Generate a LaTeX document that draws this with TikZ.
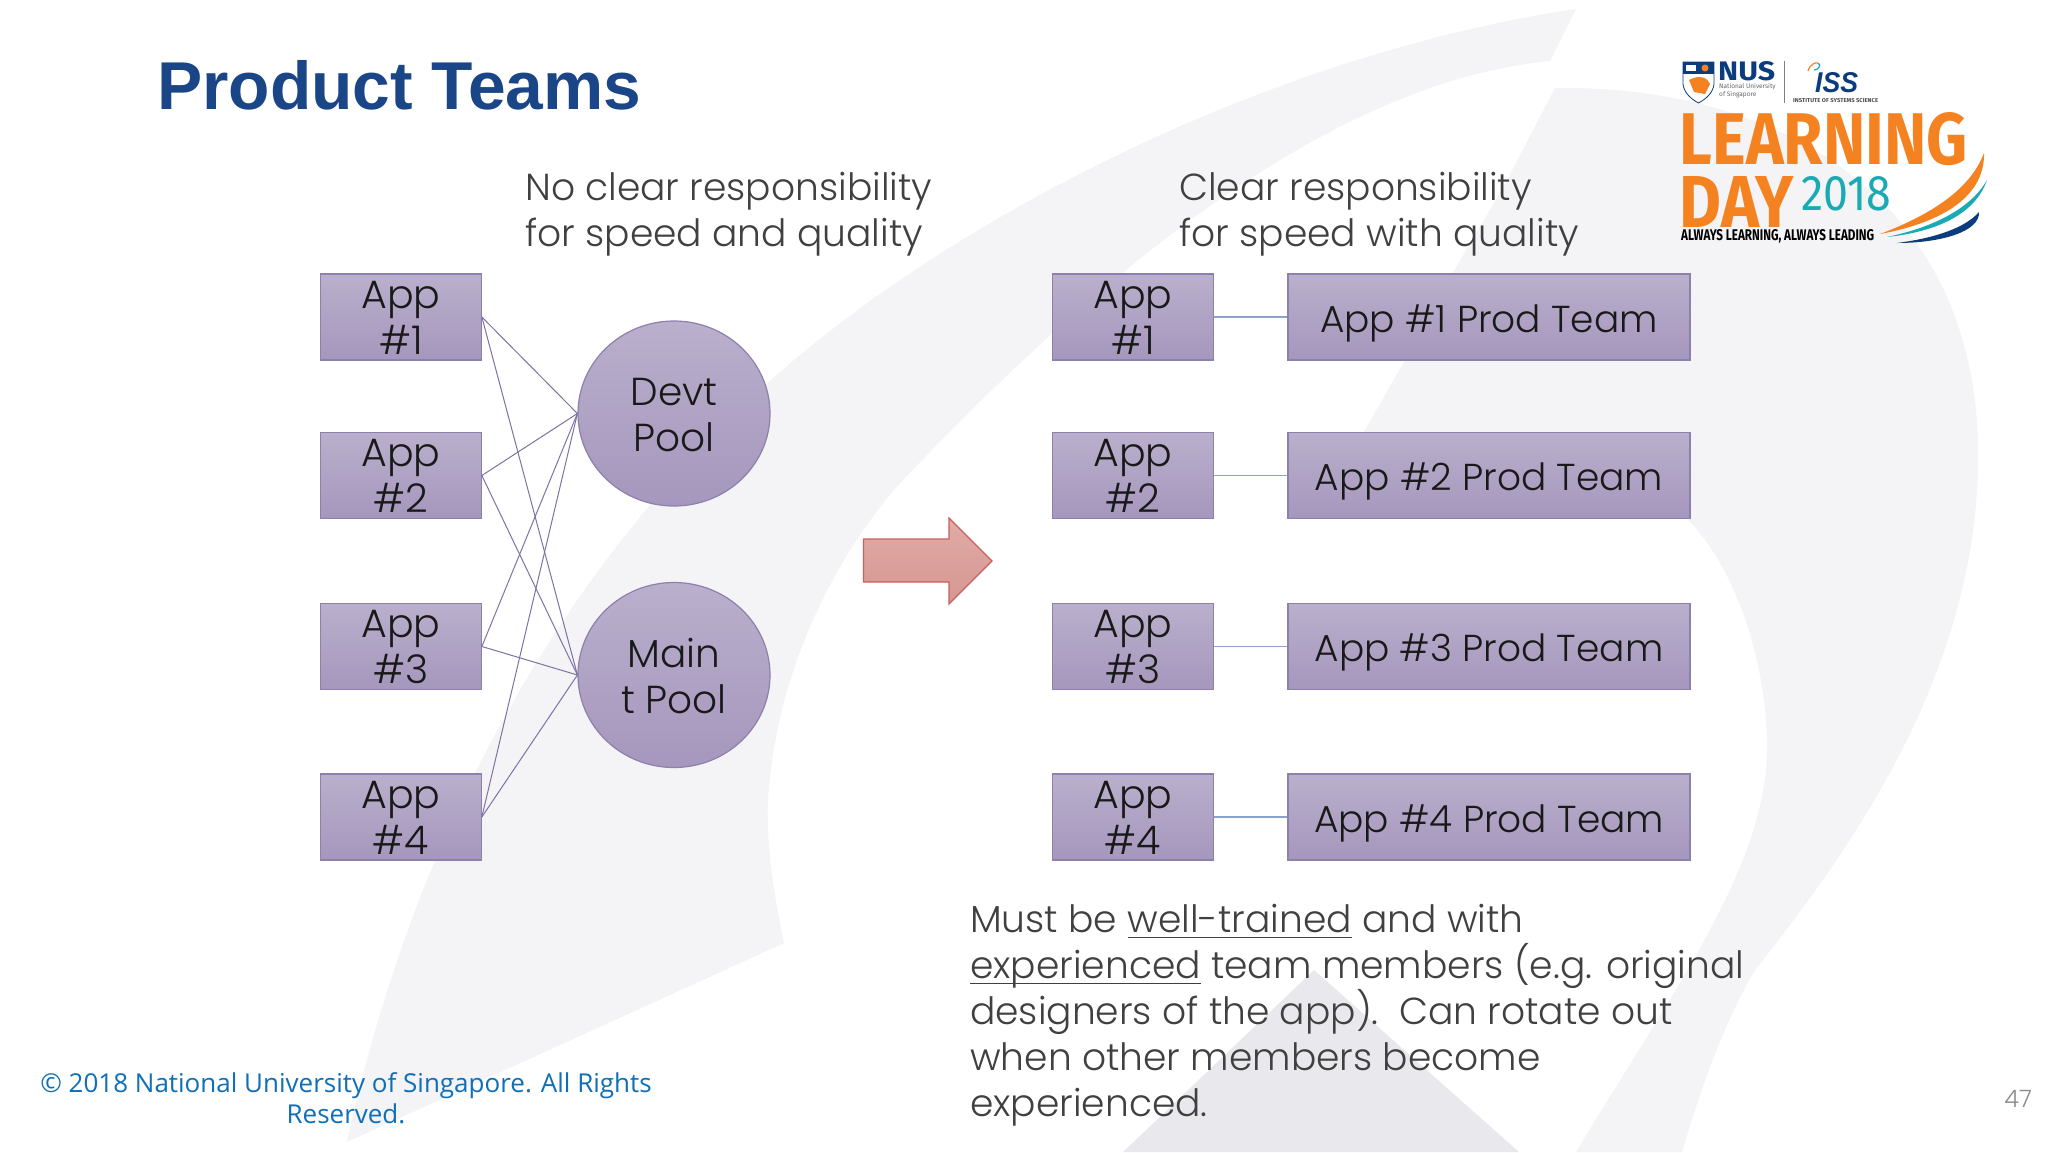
\documentclass[tikz,border=0pt]{standalone}
\usepackage{fontspec}
\usepackage{graphicx}
\usetikzlibrary{shapes.geometric}
\newfontfamily\gothic{Poppins Light}
\newfontfamily\headf{Liberation Sans}[BoldFont=Liberation Sans Bold]
\newfontfamily\condf{Fira Sans}
\newfontfamily\footf{Open Sans}
\definecolor{wm}{HTML}{F4F3F6}
\definecolor{wmd}{HTML}{E9E8EC}
\definecolor{titleblue}{HTML}{1A4587}
\definecolor{bodytxt}{HTML}{404040}
\definecolor{boxline}{HTML}{8E80AC}
\definecolor{boxtop}{HTML}{BAAFCC}
\definecolor{boxbot}{HTML}{A597BD}
\definecolor{linkp}{HTML}{7F72A3}
\definecolor{linkb}{HTML}{8AA2CC}
\definecolor{lorange}{HTML}{F58220}
\definecolor{lteal}{HTML}{1AAAB4}
\definecolor{lnavy}{HTML}{0B3C7D}
\definecolor{footblue}{HTML}{0F6FB7}
\definecolor{arrtop}{HTML}{E0ACA6}
\definecolor{arrbot}{HTML}{D69691}
\definecolor{arrline}{HTML}{C8605E}
\newcommand\fitbox[3]{\resizebox{#1pt}{#2pt}{#3}}
\newcommand\ulx[1]{\setbox0\hbox{#1}\rlap{\rule[-6pt]{\wd0}{1.6pt}}\box0{}}
\tikzset{
 bodyfont/.style={font=\gothic\fontsize{37.6}{46}\selectfont},
 appbox/.style={draw=boxline,line width=1.2pt,top color=boxtop,bottom color=boxbot,minimum width=160.5pt,minimum height=86pt,inner sep=0pt,align=center,font=\gothic\fontsize{39.5}{46}\selectfont,text=black!90},
 teambox/.style={draw=boxline,line width=1.2pt,top color=boxtop,bottom color=boxbot,minimum width=402pt,minimum height=86pt,inner sep=0pt,text height=36pt,text depth=6pt,font=\gothic\fontsize{37.5}{46}\selectfont,text=black!90},
 poolnode/.style={ellipse,draw=boxline,line width=1.2pt,top color=boxtop,bottom color=boxbot,minimum width=192pt,minimum height=185pt,inner sep=0pt,align=center,font=\gothic\fontsize{39}{46}\selectfont,text=black!90},
 teamlink/.style={draw=linkb,line width=1.2pt},
 poollink/.style={draw=linkp,line width=1pt},
 caption/.style={anchor=north west,inner sep=0pt,align=left,bodyfont,text=bodytxt},
 logotxt/.style={anchor=south west,inner sep=0pt},
}
\newcommand\appl[1]{\rule{0pt}{34pt}App\\#1\rule[-6pt]{0pt}{6pt}}
\newcommand\pool[2]{\rule{0pt}{36pt}#1\\#2\rule[-6pt]{0pt}{6pt}}
\begin{document}
\begin{tikzpicture}[x=1pt,y=-1pt]
\useasboundingbox (0,0) rectangle (2048,1152);
\fill[white] (0,0) rectangle (2048,1152);
% watermark
\fill[wm] (1576,9) .. controls (1300,50) and (1000,190) .. (800,355)
 .. controls (620,505) and (430,760) .. (347,1142)
 -- (784,943)
 .. controls (775,900) and (766,850) .. (768,800)
 .. controls (775,680) and (830,560) .. (903,480)
 .. controls (1130,240) and (1350,80) .. (1550,61) -- cycle;
\fill[wm] (1555,88) .. controls (1780,85) and (1985,200) .. (1978,470)
 .. controls (1972,680) and (1850,850) .. (1755,970)
 .. controls (1725,1020) and (1700,1090) .. (1682,1152)
 -- (1576,1152)
 .. controls (1680,980) and (1770,860) .. (1767,741)
 .. controls (1765,650) and (1730,560) .. (1686,518)
 -- (1364,432) -- (1404,362) -- (1454,271) -- (1504,186) -- cycle;
\fill[wmd] (1314,970) -- (1519,1152) -- (1123,1152) -- cycle;
% title and captions
\node[anchor=base west,inner sep=0pt,font=\headf\bfseries\fontsize{67.7}{70}\selectfont,text=titleblue] (title) at (157,109) {Product Teams};
\node[caption] (capl) at (525,166) {\rule{0pt}{34pt}No clear responsibility\\for speed and quality};
\node[caption] (capr) at (1179,166) {\rule{0pt}{34pt}Clear responsibility\\for speed with quality};
% left column
\node[appbox] (a1) at (401,317) {\appl{\#1}};
\node[appbox] (a2) at (401,475.5) {\appl{\#2}};
\node[appbox] (a3) at (401,646.5) {\appl{\#3}};
\node[appbox] (a4) at (401,817) {\appl{\#4}};
\node[poolnode] (devt) at (674,413.5) {\pool{Devt}{Pool}};
\node[poolnode] (maint) at (674,675) {\pool{Main}{t Pool}};
\foreach \a in {a1,a2,a3,a4}{
 \draw[poollink] (\a.east) -- (devt.west);
 \draw[poollink] (\a.east) -- (maint.west);
}
% arrow
\path[top color=arrtop,bottom color=arrbot,draw=arrline,line width=1.2pt] (863.5,539) -- (949,539) -- (949,518) -- (992,561) -- (949,604) -- (949,582) -- (863.5,582) -- cycle;
% right column
\node[appbox] (b1) at (1133,317) {\appl{\#1}};
\node[appbox] (b2) at (1133,475.5) {\appl{\#2}};
\node[appbox] (b3) at (1133,646.5) {\appl{\#3}};
\node[appbox] (b4) at (1133,817) {\appl{\#4}};
\node[teambox] (t1) at (1489,317) {App \#1 Prod Team};
\node[teambox] (t2) at (1489,475.5) {App \#2 Prod Team};
\node[teambox] (t3) at (1489,646.5) {App \#3 Prod Team};
\node[teambox] (t4) at (1489,817) {App \#4 Prod Team};
\draw[teamlink] (b1) -- (t1);
\draw[teamlink] (b2) -- (t2);
\draw[teamlink] (b3) -- (t3);
\draw[teamlink] (b4) -- (t4);
% bottom text
\node[caption] (note) at (970,898) {\rule{0pt}{34pt}Must be \ulx{well-trained} and with\\\ulx{experienced} team members (e.g. original\\designers of the app).\ \ Can rotate out\\when other members become\\experienced.};
% footer
\node[anchor=north,inner sep=0pt,align=center,font=\footf\fontsize{26}{31}\selectfont,text=footblue] (foot) at (346,1067) {\rule{0pt}{25pt}© 2018 National University of Singapore. All Rights\\Reserved.};
\node[anchor=base east,inner sep=0pt,font=\gothic\fontsize{24}{28}\selectfont,text=black!45] (pnum) at (2032,1107) {47};
% logo
\node[logotxt] (lrn) at (1679.5,166) {\fitbox{288}{52}{\condf\bfseries\textcolor{lorange}{LEARNING}}};
\node[logotxt] (lday) at (1679.5,228) {\fitbox{114}{51}{\condf\bfseries\textcolor{lorange}{DAY}}};
\node[logotxt] (lyr) at (1801,211) {\fitbox{90}{34}{\condf\textcolor{lteal}{2018}}};
\node[logotxt] (ltag) at (1681,243) {\fitbox{193}{11}{\condf\bfseries ALWAYS LEARNING, ALWAYS LEADING}};
\node[logotxt] (lnus) at (1718,81) {\fitbox{57}{19}{\condf\bfseries\textcolor{lnavy}{NUS}}};
\node[anchor=north west,inner sep=0pt,align=left,font=\condf\fontsize{6.5}{7.5}\selectfont,text=black!60] (lnat) at (1719,83.5) {National University\\of Singapore};
\node[logotxt] (liss) at (1815,93) {\fitbox{43}{20}{\headf\bfseries\itshape\textcolor{lnavy}{ISS}}};
\node[logotxt] (linst) at (1793,102.5) {\fitbox{85}{4}{\condf\bfseries\textcolor{black!70}{INSTITUTE OF SYSTEMS SCIENCE}}};
\draw[black!50,line width=0.8pt] (1784,61) -- (1784,103);
% shield
\fill[white] (1683,62) -- (1714,62) -- (1714,84) .. controls (1713,94) and (1704,100) .. (1698.5,103) .. controls (1693,100) and (1684,94) .. (1683,84) -- cycle;
\fill[lnavy] (1683,62) rectangle (1714,74);
\draw[lnavy,line width=0.8pt] (1683,62) -- (1714,62) -- (1714,84) .. controls (1713,94) and (1704,100) .. (1698.5,103) .. controls (1693,100) and (1684,94) .. (1683,84) -- cycle;
\fill[white] (1686,65) rectangle (1696,71);
\fill[lorange] (1705,68) circle (3.5);
\fill[lorange] (1689,80) .. controls (1700,74) and (1708,78) .. (1710,84) -- (1705,94) -- (1694,92) -- cycle;
% iss swirl
\draw[lorange,line width=1.2pt] (1808,71) .. controls (1810,64) and (1816,62) .. (1818,63);
\draw[lteal,line width=1.2pt] (1818,63) .. controls (1822,65) and (1818,70) .. (1814,70);
% swooshes
\fill[lorange] (1880,234) .. controls (1930,215) and (1970,190) .. (1984,153) .. controls (1985,195) and (1945,222) .. (1880,234) -- cycle;
\fill[lteal] (1887,237) .. controls (1930,228) and (1970,210) .. (1987,180) .. controls (1975,215) and (1935,232) .. (1887,237) -- cycle;
\fill[lnavy] (1897,243) .. controls (1935,238) and (1965,228) .. (1979,212) .. controls (1980,232) and (1940,243) .. (1897,243) -- cycle;
\end{tikzpicture}
\end{document}
